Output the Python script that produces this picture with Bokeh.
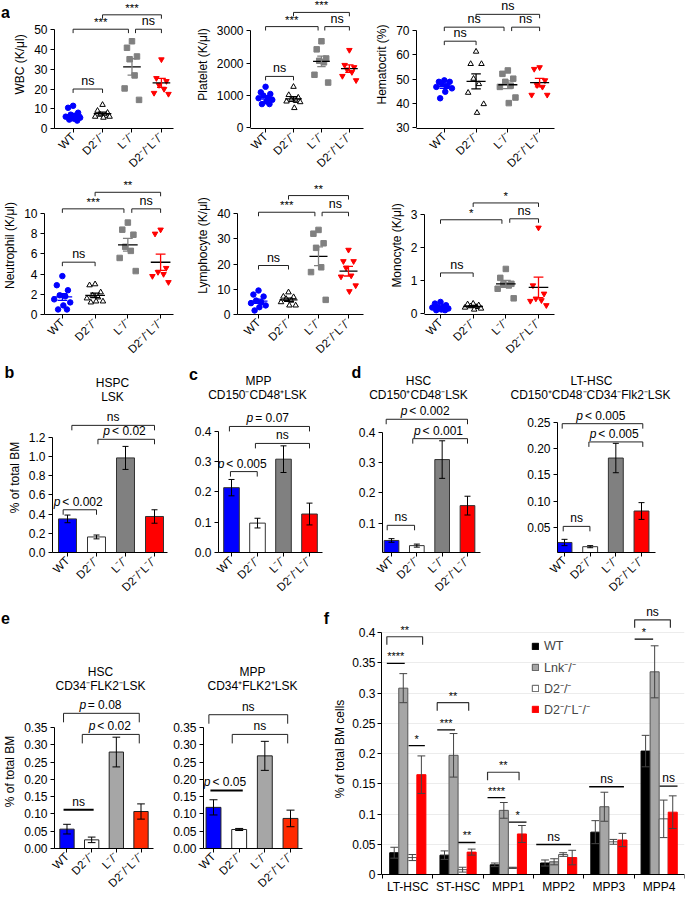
import math
import numpy as np
from bokeh.plotting import figure
from bokeh.layouts import row, column
from bokeh.models import FixedTicker, Legend, LegendItem, Range1d
from bokeh.core.properties import value
from bokeh.embed import file_html
from bokeh.resources import INLINE

FONT = "Liberation Sans"

# ---------------- categories ----------------
genotypes = ["WT", "D2⁻/⁻", "L⁻/⁻", "D2⁻/⁻L⁻/⁻"]
genotype_x = [1, 2, 3, 4]

# ---------------- panel a: individual mice ----------------
wbc_wt = [11.5, 10.5, 8.0, 7.0, 6.5, 6.0, 5.5, 5.0, 4.5, 4.0]
wbc_d2 = [12.0, 9.0, 8.0, 7.0, 6.5, 6.0, 6.0, 5.5]
wbc_l = [44.2, 40.9, 36.5, 35.1, 26.9, 20.3, 14.5]
wbc_d2l = [35.0, 25.5, 24.0, 22.0, 20.0, 18.0, 17.5]

plt_wt = [1263, 1091, 1040, 990, 909, 909, 858, 809, 727, 727]
plt_d2 = [1264, 1009, 930, 858, 827, 809, 788, 606]
plt_l = [2676, 2424, 2142, 2070, 2021, 1636, 1394]
plt_d2l = [2403, 1939, 1870, 1797, 1718, 1597, 1464]

hct_wt = [49.5, 48.9, 48.9, 48.2, 47.3, 46.8, 46.2, 44.8, 42.1]
hct_d2 = [61.4, 56.3, 56.3, 50.2, 48.0, 44.4, 39.7, 36.1]
hct_l = [53.6, 52.2, 50.2, 48.9, 47.3, 46.8, 42.4, 40.1]
hct_d2l = [54.9, 54.2, 49.5, 47.5, 46.8, 43.5, 43.5]

neu_wt = [3.8, 2.9, 2.4, 1.9, 1.8, 1.5, 1.2, 0.9, 0.5, 0.5]
neu_d2 = [3.0, 2.9, 2.2, 1.9, 1.7, 1.6, 1.3, 1.3, 1.2]
neu_l = [9.1, 8.4, 7.9, 6.7, 6.3, 5.6, 4.3]
neu_d2l = [8.4, 8.0, 4.6, 4.2, 4.0, 3.8, 3.2]

lym_wt = [9.5, 7.9, 7.1, 5.5, 4.9, 4.5, 3.6, 2.9, 1.6]
lym_d2 = [8.8, 7.1, 6.9, 6.2, 5.5, 4.9, 3.6, 3.6]
lym_l = [33.5, 32.0, 28.2, 26.4, 18.7, 16.8, 5.8]
lym_d2l = [25.6, 21.1, 21.1, 18.5, 15.4, 15.0, 11.5, 9.2]

mon_wt = [0.35, 0.30, 0.25, 0.20, 0.20, 0.18, 0.15, 0.12, 0.10, 0.10]
mon_d2 = [0.30, 0.28, 0.25, 0.22, 0.20, 0.18, 0.15, 0.12]
mon_l = [1.35, 1.08, 0.90, 0.88, 0.85, 0.75, 0.46]
mon_d2l = [2.60, 0.85, 0.60, 0.45, 0.40, 0.38, 0.25]

# hand placed horizontal spread of the dots inside one column
dot_spread = [0.0, -0.17, 0.17, -0.08, 0.09, -0.25, 0.24, 0.03, -0.13, 0.14]

# significance brackets: (x from, x to, level, text, kind b=bracket l=line)
wbc_sig = [(1, 2, 20.0, "ns", "b"), (1, 2.88, 50.3, "***", "b"), (3.12, 4, 50.3, "ns", "b"), (2, 4, 57.6, "***", "b")]
plt_sig = [(1, 2, 1585, "ns", "b"), (1, 2.88, 3130, "***", "b"), (3.12, 4, 3130, "ns", "b"), (2, 4, 3570, "***", "b")]
hct_sig = [(1, 2, 65.7, "ns", "b"), (1, 2.88, 71.5, "ns", "b"), (3.12, 4, 71.5, "ns", "b"), (2, 4, 76.8, "ns", "b")]
neu_sig = [(1, 2, 5.18, "ns", "b"), (1, 2.88, 10.46, "***", "b"), (3.12, 4, 10.46, "ns", "b"), (2, 4, 12.1, "**", "b")]
lym_sig = [(1, 2, 19.4, "ns", "b"), (1, 2.88, 40.5, "***", "b"), (3.12, 4, 40.5, "ns", "b"), (2, 4, 47.1, "**", "b")]
mon_sig = [(1, 2, 1.23, "ns", "b"), (1, 2.88, 2.84, "*", "b"), (3.12, 4, 2.87, "ns", "b"), (2, 4, 3.35, "*", "b")]

# ---------------- panels b-e: means and SEM ----------------
b_mean = [0.35, 0.162, 0.985, 0.375]
b_err = [0.04, 0.02, 0.12, 0.07]
b_sig = [(1.15, 4.0, 1.324, "ns", "b"), (2.05, 4.0, 1.179, "p < 0.02", "b"), (0.85, 2.0, 0.445, "p < 0.002", "b")]

c_mean = [0.214, 0.097, 0.308, 0.127]
c_err = [0.027, 0.016, 0.044, 0.036]
c_sig = [(0.92, 4.0, 0.416, "p = 0.07", "b"), (1.92, 4.0, 0.36, "ns", "b"), (0.96, 1.99, 0.267, "p < 0.005", "b")]

dh_mean = [0.043, 0.026, 0.31, 0.158]
dh_err = [0.006, 0.005, 0.062, 0.031]
dh_sig = [(0.79, 4.0, 0.443, "p < 0.002", "b"), (1.84, 4.0, 0.379, "p < 0.001", "b"), (0.83, 1.91, 0.093, "ns", "b")]

dl_mean = [0.021, 0.013, 0.182, 0.081]
dl_err = [0.006, 0.002, 0.028, 0.016]
dl_sig = [(0.91, 4.05, 0.2475, "p < 0.005", "b"), (1.95, 4.05, 0.2127, "p < 0.005", "b"), (0.95, 1.99, 0.0517, "ns", "b")]

eh_mean = [0.056, 0.025, 0.279, 0.107]
eh_err = [0.014, 0.008, 0.043, 0.022]
eh_sig = [(0.86, 3.93, 0.391, "p = 0.08", "b"), (1.62, 3.93, 0.33, "p < 0.02", "b"), (0.86, 2.08, 0.112, "ns", "l")]

em_mean = [0.119, 0.055, 0.268, 0.087]
em_err = [0.022, 0.003, 0.042, 0.024]
em_sig = [(0.82, 3.89, 0.387, "ns", "b"), (1.73, 3.89, 0.33, "ns", "b"), (0.88, 2.14, 0.168, "p < 0.05", "l")]

# ---------------- panel f ----------------
f_groups = ["LT-HSC", "ST-HSC", "MPP1", "MPP2", "MPP3", "MPP4"]
f_x = [1, 2, 3, 4, 5, 6]
f_series = ["WT", "Lnk⁻/⁻", "D2⁻/⁻", "D2⁻/⁻L⁻/⁻"]
f_wt = [0.036, 0.032, 0.016, 0.019, 0.070, 0.204]
f_wt_err = [0.009, 0.007, 0.003, 0.005, 0.019, 0.026]
f_lnk = [0.308, 0.197, 0.106, 0.021, 0.112, 0.335]
f_lnk_err = [0.024, 0.036, 0.013, 0.005, 0.024, 0.043]
f_d2 = [0.028, 0.008, 0.011, 0.033, 0.054, 0.092]
f_d2_err = [0.005, 0.004, 0.001, 0.003, 0.004, 0.031]
f_d2l = [0.165, 0.037, 0.067, 0.028, 0.057, 0.103]
f_d2l_err = [0.031, 0.005, 0.014, 0.012, 0.011, 0.027]
f_sig = [(0.583, 1.294, 0.393, "**", "b"), (0.583, 0.939, 0.349, "****", "l"), (1.016, 1.339, 0.213, "*", "l"),
         (1.585, 2.211, 0.284, "**", "b"), (1.585, 1.94, 0.239, "***", "l"), (2.005, 2.347, 0.053, "**", "l"),
         (2.586, 3.213, 0.169, "**", "b"), (2.586, 2.941, 0.127, "****", "l"), (3.012, 3.361, 0.0865, "*", "l"),
         (3.555, 4.246, 0.0495, "ns", "l"), (4.608, 5.299, 0.145, "ns", "l"),
         (5.512, 6.223, 0.421, "ns", "b"), (5.512, 5.88, 0.389, "*", "l"), (6.01, 6.365, 0.146, "ns", "l")]
f_ticks = [0, 0.05, 0.1, 0.15, 0.2, 0.25, 0.3, 0.35, 0.4]
f_tick_labels = ["0", "0.05", "0.1", "0.15", "0.2", "0.25", "0.3", "0.35", "0.4"]

BLUE = "#0000ff"
RED = "#ff0000"
GREY = "#808080"


class Geo:
    """page-pixel layout of one figure and its linear data mapping"""
    def __init__(self, box, frame, xmap, ymap):
        self.box, self.frame = box, frame
        xv1, xp1, xv2, xp2 = xmap
        yv1, yp1, yv2, yp2 = ymap
        self.kx = (xv2 - xv1) / (xp2 - xp1)
        self.ky = (yv2 - yv1) / (yp2 - yp1)
        self.xv1, self.xp1, self.yv1, self.yp1 = xv1, xp1, yv1, yp1

    def x(self, px):
        return self.xv1 + (px - self.xp1) * self.kx

    def y(self, py):
        return self.yv1 + (py - self.yp1) * self.ky

    def dx(self, n):
        return n * self.kx

    def dy(self, n):
        return -n * self.ky


def base_fig(g):
    X0, Y0, W, H = g.box
    fl, fr, ft, fb = g.frame
    p = figure(width=W, height=H,
               x_range=Range1d(g.x(fl), g.x(fr)), y_range=Range1d(g.y(fb), g.y(ft)),
               output_backend="svg", toolbar_location=None,
               min_border_left=fl - X0, min_border_right=X0 + W - fr,
               min_border_top=ft - Y0, min_border_bottom=Y0 + H - fb)
    p.outline_line_color = None
    p.xgrid.visible = False
    p.ygrid.visible = False
    p.xaxis.axis_label = None
    p.yaxis.axis_label = None
    return p


def header_fig(box, items, bottom=0):
    """figure without axes that only carries panel letters and panel titles (page pixel coordinates)"""
    X0, Y0, W, H = box
    p = figure(width=W, height=H, x_range=Range1d(X0, X0 + W), y_range=Range1d(Y0 + H - bottom, Y0),
               x_axis_type=None, y_axis_type=None, output_backend="svg", toolbar_location=None,
               min_border_left=0, min_border_right=0, min_border_top=0, min_border_bottom=bottom)
    p.outline_line_color = None
    p.grid.visible = False
    for txt, px, py, size, bold in items:
        p.text(x=[px], y=[py], text=[txt], text_font=value(FONT), text_font_size=value(size),
               text_font_style="bold" if bold else "normal", text_align="center",
               text_baseline="middle", text_color="black")
    return p


def style_axis(ax, size="12px"):
    ax.axis_line_color = "black"
    ax.axis_line_width = 1
    ax.major_tick_line_color = "black"
    ax.minor_tick_line_color = None
    ax.major_tick_in = 0
    ax.major_tick_out = 4
    ax.major_label_text_font = FONT
    ax.major_label_text_font_size = size
    ax.major_label_text_color = "black"
    ax.axis_label_text_font = FONT
    ax.axis_label_text_font_style = "normal"
    ax.axis_label_text_font_size = "12px"
    ax.axis_label_text_color = "black"
    ax.major_label_standoff = 3
    ax.axis_label_standoff = 4


def make_fig(g, yticks, ylabels, ybounds, ylabel=None, xlabel_size="11.5px"):
    p = base_fig(g)
    style_axis(p.xaxis[0], xlabel_size)
    style_axis(p.yaxis[0])
    p.xaxis.ticker = FixedTicker(ticks=genotype_x)
    p.xaxis.major_label_overrides = dict(zip(genotype_x, genotypes))
    p.xaxis.major_label_orientation = math.pi / 4
    p.xaxis.major_label_standoff = 2
    yt = FixedTicker(ticks=yticks)
    p.yaxis.ticker = yt
    p.ygrid.ticker = yt
    p.yaxis.major_label_overrides = dict(zip(yticks, ylabels))
    p.yaxis.bounds = ybounds
    if ylabel:
        p.yaxis.axis_label = ylabel
    return p


def text_width(s, size):
    w = {"p": 0.556, " ": 0.278, "<": 0.584, "=": 0.584, ".": 0.278, "*": 0.389, "n": 0.556, "s": 0.5}
    return sum(w.get(c, 0.556) for c in s) * size


def add_text(p, g, cx, y, txt, size=12, color="black"):
    if txt.startswith("*"):
        size = size - 1
    fs = value(f"{size}px")
    if txt.startswith("p "):
        total = text_width(txt, size) + 2
        x0 = cx - g.dx(total / 2)
        p.text(x=[x0], y=[y], text=["p"], text_font=value(FONT), text_font_size=fs,
               text_font_style="italic", text_align="left", text_baseline="bottom", text_color=color)
        p.text(x=[x0 + g.dx(text_width("p", size) + 2)], y=[y], text=[txt[1:]], text_font=value(FONT),
               text_font_size=fs, text_align="left", text_baseline="bottom", text_color=color)
    else:
        p.text(x=[cx], y=[y], text=[txt], text_font=value(FONT), text_font_size=fs,
               text_align="center", text_baseline="bottom", text_color=color)


def add_sig(p, g, specs, drop_px=5, color="#222222", line_w=1.0, size=12, lw_line=None, gap=1):
    for x1, x2, yv, txt, kind in specs:
        if kind == "b":
            d = g.dy(drop_px)
            p.line([x1, x1, x2, x2], [yv - d, yv, yv, yv - d], line_color=color, line_width=line_w)
        else:
            p.line([x1, x2], [yv, yv], line_color="black", line_width=lw_line or line_w)
        add_text(p, g, (x1 + x2) / 2, yv + g.dy(gap), txt, size)


def scatter_panel(g, groups, yticks, ybounds, ylabel, sig):
    p = make_fig(g, yticks, [str(t) for t in yticks], ybounds, ylabel)
    styles = [("circle", BLUE, BLUE, BLUE, BLUE),
              ("triangle", "white", "black", "black", "black"),
              ("square", GREY, GREY, "black", GREY),
              ("inverted_triangle", RED, RED, "black", RED)]
    for gx, vals, (mk, fc, lc, mc, sc) in zip(genotype_x, groups, styles):
        xs = [gx + dot_spread[i] for i in range(len(vals))]
        p.scatter(xs, vals, marker=mk, size=5.5, fill_color=fc, line_color=lc, line_width=1)
        m = float(np.mean(vals))
        s = float(np.std(vals, ddof=1) / np.sqrt(len(vals)))
        p.segment([gx - 0.3], [m], [gx + 0.3], [m], line_color=mc, line_width=1.3)
        p.segment([gx, gx - 0.15, gx - 0.15], [m - s, m + s, m - s],
                  [gx, gx + 0.15, gx + 0.15], [m + s, m + s, m - s], line_color=sc, line_width=1.3)
    add_sig(p, g, sig, drop_px=4, size=12.5)
    return p


def bar_panel(g, means, errs, fills, lines, width, yticks, ylabels, ybounds, ylabel, sig,
              cap_px=3, drop_px=5, lw_line=2.0):
    p = make_fig(g, yticks, ylabels, ybounds, ylabel)
    p.vbar(x=genotype_x, top=means, width=width, fill_color=fills, line_color=lines, line_width=1)
    lo = [m - e for m, e in zip(means, errs)]
    hi = [m + e for m, e in zip(means, errs)]
    p.segment(genotype_x, lo, genotype_x, hi, line_color="black", line_width=1)
    c = g.dx(cap_px)
    p.segment([x - c for x in genotype_x] * 2, lo + hi, [x + c for x in genotype_x] * 2, lo + hi,
              line_color="black", line_width=1)
    add_sig(p, g, sig, drop_px=drop_px, lw_line=lw_line)
    return p


# ---------------- row 1 ----------------
p_letter_a = header_fig((0, 0, 10, 176), [("a", 5, 12, "16px", True)], bottom=45)
g = Geo((10, 0, 182, 176), (45, 173, 0, 131), (1, 65, 4, 160), (0, 131, 50, 30))
p_wbc = scatter_panel(g, [wbc_wt, wbc_d2, wbc_l, wbc_d2l], [0, 10, 20, 30, 40, 50], (0, 50),
                      "WBC (K/μl)", wbc_sig)
g = Geo((192, 0, 180, 176), (243, 363, 0, 131), (1, 259, 4, 348), (0, 130, 3000, 31))
p_plt = scatter_panel(g, [plt_wt, plt_d2, plt_l, plt_d2l], [0, 1000, 2000, 3000], (0, 3000),
                      "Platelet (K/μl)", plt_sig)
g = Geo((372, 0, 313, 176), (415, 554, 0, 131), (1, 443, 4, 539), (30, 130, 70, 31))
p_hct = scatter_panel(g, [hct_wt, hct_d2, hct_l, hct_d2l], [30, 40, 50, 60, 70], (30, 70),
                      "Hematocrit (%)", hct_sig)

# ---------------- row 2 ----------------
g = Geo((0, 176, 192, 186), (43, 173, 176, 314), (1, 61, 4, 160), (0, 314, 10, 213))
p_neu = scatter_panel(g, [neu_wt, neu_d2, neu_l, neu_d2l], [0, 2, 4, 6, 8, 10], (0, 10),
                      "Neutrophil (K/μl)", neu_sig)
g = Geo((192, 176, 180, 186), (237, 363, 176, 314), (1, 258, 4, 348), (0, 314, 40, 213))
p_lym = scatter_panel(g, [lym_wt, lym_d2, lym_l, lym_d2l], [0, 10, 20, 30, 40], (0, 40),
                      "Lymphocyte (K/μl)", lym_sig)
g = Geo((372, 176, 313, 186), (424, 554, 176, 314), (1, 440, 4, 538), (0, 313, 3, 214))
p_mon = scatter_panel(g, [mon_wt, mon_d2, mon_l, mon_d2l], [0, 1, 2, 3], (0, 3),
                      "Monocyte (K/μl)", mon_sig)

# ---------------- row 3 (b, c, d) ----------------
p_head3 = header_fig((0, 362, 685, 40), [
    ("b", 9, 372, "16px", True), ("c", 193, 374, "16px", True), ("d", 356, 372, "16px", True),
    ("HSPC", 112, 382, "12px", False), ("LSK", 112, 396, "12px", False),
    ("MPP", 258, 380, "12px", False), ("CD150⁻CD48⁺LSK", 257, 394, "12px", False),
    ("HSC", 418, 380, "12px", False), ("CD150⁺CD48⁻LSK", 418, 394, "12px", False),
    ("LT-HSC", 591, 380, "12px", False), ("CD150⁺CD48⁻CD34⁻Flk2⁻LSK", 590, 394, "12px", False)])

dark_fills = [BLUE, "white", GREY, RED]
dark_lines = ["#333333", "#333333", "#333333", "#333333"]
t12 = [0, 0.2, 0.4, 0.6, 0.8, 1.0, 1.2]
t04 = [0, 0.1, 0.2, 0.3, 0.4]
t025 = [0, 0.05, 0.1, 0.15, 0.2, 0.25]
g = Geo((0, 402, 170, 198), (52, 167, 402, 553), (1, 67, 4, 154), (0, 553, 1.2, 437))
p_b = bar_panel(g, b_mean, b_err, dark_fills, dark_lines, 0.62, t12, [f"{t:.1f}" for t in t12], (0, 1.2),
                "% of total BM", b_sig)
g = Geo((170, 402, 170, 198), (218, 322, 402, 553), (1, 231, 4, 309), (0, 553, 0.4, 431))
p_c = bar_panel(g, c_mean, c_err, dark_fills, dark_lines, 0.6, t04, [f"{t:.1f}" for t in t04], (0, 0.4),
                None, c_sig)
g = Geo((340, 402, 165, 198), (382, 480, 402, 553), (1, 391, 4, 467), (0, 554, 0.4, 432))
p_dh = bar_panel(g, dh_mean, dh_err, dark_fills, dark_lines, 0.58, t04, [f"{t:.1f}" for t in t04], (0, 0.4),
                 None, dh_sig)
g = Geo((505, 402, 180, 198), (557, 655, 402, 553), (1, 564, 4, 641), (0, 554, 0.25, 422))
p_dl = bar_panel(g, dl_mean, dl_err, dark_fills, dark_lines, 0.58, t025, [f"{t:.2f}" for t in t025],
                 (0, 0.25), None, dl_sig)

# ---------------- row 4 (e, f) ----------------
p_head_e = header_fig((0, 600, 330, 94), [
    ("e", 5, 617, "16px", True), ("f", 326, 618, "16px", True),
    ("HSC", 100, 671, "12px", False), ("CD34⁻FLK2⁻LSK", 100, 685, "12px", False),
    ("MPP", 252, 671, "12px", False), ("CD34⁺FLK2⁺LSK", 252, 685, "12px", False)])

light_fills = [BLUE, "white", "#a6a6a6", "#ff2a00"]
light_lines = ["#222222", "#222222", "#222222", "#222222"]
t035 = [0, 0.05, 0.1, 0.15, 0.2, 0.25, 0.3, 0.35]
g = Geo((0, 694, 160, 203), (50, 153, 694, 848), (1, 63, 4, 140), (0, 848, 0.35, 727))
p_eh = bar_panel(g, eh_mean, eh_err, light_fills, light_lines, 0.58, t035, [f"{t:.2f}" for t in t035],
                 (0, 0.35), "% of total BM", eh_sig, cap_px=4, drop_px=9)
g = Geo((160, 694, 170, 203), (203, 302, 694, 848), (1, 213, 4, 290), (0, 848, 0.35, 727))
p_em = bar_panel(g, em_mean, em_err, light_fills, light_lines, 0.58, t035, [f"{t:.2f}" for t in t035],
                 (0, 0.35), None, em_sig, cap_px=4, drop_px=9)

# f: the frame reaches the page bottom; the group axis is pinned at value 0
gf = Geo((330, 600, 355, 297), (373, 684, 600, 897), (1, 400, 6, 658), (0, 874, 0.4, 632))
p_f = base_fig(gf)
style_axis(p_f.xaxis[0], "12px")
style_axis(p_f.yaxis[0])
p_f.xaxis.fixed_location = 0
p_f.xaxis.ticker = FixedTicker(ticks=f_x, minor_ticks=[x - 0.5 for x in f_x] + [f_x[-1] + 0.5])
p_f.xaxis.major_label_overrides = dict(zip(f_x, f_groups))
p_f.xaxis.major_tick_out = 0
p_f.xaxis.minor_tick_out = 4
p_f.xaxis.minor_tick_in = 0
p_f.xaxis.minor_tick_line_color = "black"
p_f.xaxis.major_label_standoff = 1
fyt = FixedTicker(ticks=f_ticks)
p_f.yaxis.ticker = fyt
p_f.ygrid.ticker = fyt
p_f.ygrid.visible = True
p_f.ygrid.grid_line_color = "#ececec"
p_f.yaxis.major_label_overrides = dict(zip(f_ticks, f_tick_labels))
p_f.yaxis.bounds = (0, 0.4)
p_f.yaxis.axis_label = "% of total BM cells"
p_f.yaxis.axis_label_standoff = 2
p_f.yaxis.major_label_standoff = 2

f_offsets = [-0.27, -0.09, 0.09, 0.27]
f_style = [("black", "black"), ("#a6a6a6", "#555555"), ("white", "#555555"), (RED, RED)]
renderers = []
for vals, errs, off, (fc, lc) in zip([f_wt, f_lnk, f_d2, f_d2l], [f_wt_err, f_lnk_err, f_d2_err, f_d2l_err],
                                     f_offsets, f_style):
    xs = [x + off for x in f_x]
    r = p_f.vbar(x=xs, top=vals, width=0.18, fill_color=fc, line_color=lc, line_width=1)
    renderers.append(r)
    lo = [m - e for m, e in zip(vals, errs)]
    hi = [m + e for m, e in zip(vals, errs)]
    p_f.segment(xs, lo, xs, hi, line_color="#444444", line_width=1)
    c = gf.dx(4)
    p_f.segment([x - c for x in xs] * 2, lo + hi, [x + c for x in xs] * 2, lo + hi,
                line_color="#444444", line_width=1)
add_sig(p_f, gf, f_sig, drop_px=8, color="#333333", line_w=1.2, size=12, lw_line=1.4)
legend = Legend(items=[LegendItem(label=s, renderers=[r]) for s, r in zip(f_series, renderers)],
                location=(150, 179), glyph_width=8, glyph_height=8, label_text_font=FONT,
                label_text_font_size="12.5px", label_height=18, spacing=3, padding=0, margin=0,
                border_line_color=None, background_fill_alpha=0, label_standoff=5)
p_f.add_layout(legend)

root = column(row(p_letter_a, p_wbc, p_plt, p_hct),
              row(p_neu, p_lym, p_mon),
              row(p_head3),
              row(p_b, p_c, p_dh, p_dl),
              row(column(row(p_head_e), row(p_eh, p_em)), column(p_f)))

open("out.html", "w").write(file_html(root, INLINE))
